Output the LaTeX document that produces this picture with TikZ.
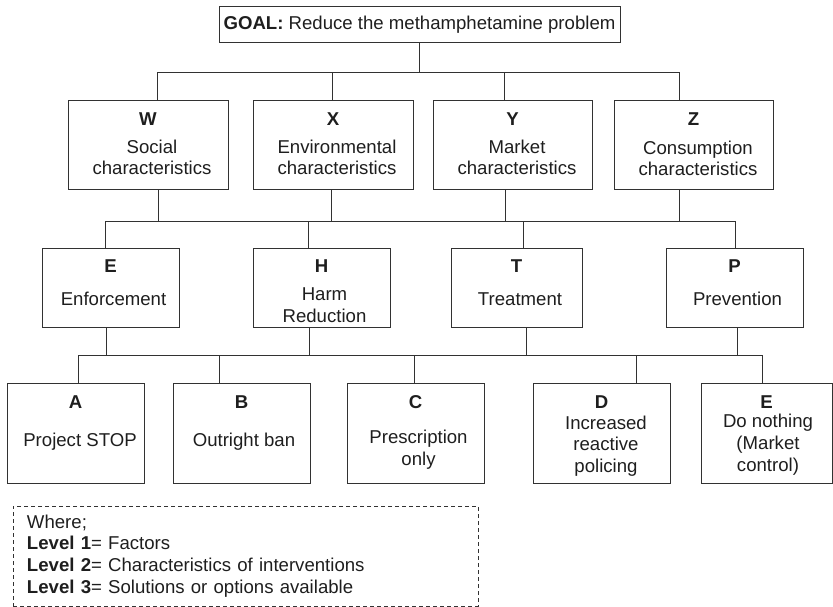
\documentclass[tikz,border=0pt]{standalone}
\usepackage{fontspec}
\setmainfont{Liberation Sans}
\usepackage{tikz}
\usetikzlibrary{positioning}
\definecolor{mydark}{RGB}{30,30,30}
\definecolor{myline}{RGB}{50,50,50}
\newcommand{\bodyfont}{\fontsize{18.6}{21.7}\selectfont}
\tikzset{
  box/.style={rectangle, draw=myline, line width=1pt, inner sep=0pt},
  letter/.style={font=\bodyfont\bfseries, text=mydark, inner sep=0pt},
  txt/.style={font=\bodyfont, text=mydark, align=center, inner sep=0pt},
  legend/.style={rectangle, draw=myline, line width=0.8pt,
    dash pattern=on 4pt off 3pt, font=\bodyfont, text=mydark,
    align=left, inner xsep=14pt, inner ysep=0pt},
  link/.style={draw=myline, line width=1pt}
}

\begin{document}
\begin{tikzpicture}[x=1pt, y=-1pt]
  \useasboundingbox (0,0) rectangle (833,607);

  % Goal
  \node[box, minimum width=401pt, minimum height=36pt, font=\bodyfont, text=mydark] (goal) at (419.5,25)
    {\textbf{GOAL:} Reduce the methamphetamine problem};

  % Level 1 - factors
  \node[box, minimum width=160pt, minimum height=89pt] (W) at (148,145.5) {};
  \node[letter] (Wk) at (148,119) {W};
  \node[txt] (Wt) at (152,157.5) {Social\\characteristics};

  \node[box, minimum width=160pt, minimum height=89pt] (X) at (333,145.5) {};
  \node[letter] (Xk) at (333,119) {X};
  \node[txt] (Xt) at (337,157.5) {Environmental\\characteristics};

  \node[box, minimum width=159pt, minimum height=89pt] (Y) at (512.5,145.5) {};
  \node[letter] (Yk) at (512.5,119) {Y};
  \node[txt] (Yt) at (517,157.5) {Market\\characteristics};

  \node[box, minimum width=159pt, minimum height=89pt] (Z) at (693.5,145.5) {};
  \node[letter] (Zk) at (693.5,119) {Z};
  \node[txt] (Zt) at (698,158.5) {Consumption\\characteristics};

  % Level 2 - characteristics of interventions
  \node[box, minimum width=137pt, minimum height=79pt] (E) at (110.5,287.5) {};
  \node[letter] (Ek) at (110.5,266) {E};
  \node[txt] (Et) at (113.5,299) {Enforcement};

  \node[box, minimum width=137pt, minimum height=79pt] (H) at (321.5,287.5) {};
  \node[letter] (Hk) at (321.5,266) {H};
  \node[txt] (Ht) at (324.5,305) {Harm\\Reduction};

  \node[box, minimum width=131pt, minimum height=79pt] (T) at (516.5,287.5) {};
  \node[letter] (Tk) at (516.5,266) {T};
  \node[txt] (Tt) at (520,299) {Treatment};

  \node[box, minimum width=137pt, minimum height=79pt] (P) at (734.5,287.5) {};
  \node[letter] (Pk) at (734.5,266) {P};
  \node[txt] (Pt) at (737.5,299) {Prevention};

  % Level 3 - solutions or options
  \node[box, minimum width=137pt, minimum height=100pt] (A) at (75.5,433) {};
  \node[letter] (Ak) at (75.5,402) {A};
  \node[txt] (At) at (80,442) {Project STOP};

  \node[box, minimum width=137pt, minimum height=100pt] (B) at (241.5,433) {};
  \node[letter] (Bk) at (241.5,402) {B};
  \node[txt] (Bt) at (244,442) {Outright ban};

  \node[box, minimum width=137pt, minimum height=100pt] (C) at (415.5,433) {};
  \node[letter] (Ck) at (415.5,402) {C};
  \node[txt] (Ct) at (418.5,450) {Prescription\\only};

  \node[box, minimum width=137pt, minimum height=100pt] (D) at (601.5,433) {};
  \node[letter] (Dk) at (601.5,402) {D};
  \node[txt] (Dt) at (606,446) {Increased\\reactive\\policing};

  \node[box, minimum width=131pt, minimum height=100pt] (N) at (766.5,433) {};
  \node[letter] (Nk) at (766.5,402) {E};
  \node[txt] (Nt) at (768,444.5) {Do nothing\\(Market\\control)};

  % Junctions
  \coordinate (j1) at ([yshift=-29pt]goal.south);
  \coordinate (j2) at (420,221);
  \coordinate (j3) at (420,355);

  % Goal to level 1
  \draw[link] (goal.south) -- (j1);
  \draw[link] ([xshift=9pt]W.north) |- (j1);
  \draw[link] ([xshift=-1pt]X.north) |- (j1);
  \draw[link] ([xshift=-8.5pt]Y.north) |- (j1);
  \draw[link] ([xshift=-14.5pt]Z.north) |- (j1);

  % Level 1 to level 2
  \draw[link] ([xshift=10pt]W.south) |- (j2);
  \draw[link] ([xshift=-2pt]X.south) |- (j2);
  \draw[link] ([xshift=-7.5pt]Y.south) |- (j2);
  \draw[link] ([xshift=-14.5pt]Z.south) |- (j2);
  \draw[link] ([xshift=-5.5pt]E.north) |- (j2);
  \draw[link] ([xshift=-13.5pt]H.north) |- (j2);
  \draw[link] ([xshift=6.5pt]T.north) |- (j2);
  \draw[link] ([xshift=0.5pt]P.north) |- (j2);

  % Level 2 to level 3
  \draw[link] ([xshift=-4.5pt]E.south) |- (j3);
  \draw[link] ([xshift=-12.5pt]H.south) |- (j3);
  \draw[link] ([xshift=9.5pt]T.south) |- (j3);
  \draw[link] ([xshift=2.5pt]P.south) |- (j3);
  \draw[link] ([xshift=2.5pt]A.north) |- (j3);
  \draw[link] ([xshift=-22.5pt]B.north) |- (j3);
  \draw[link] ([xshift=-1.5pt]C.north) |- (j3);
  \draw[link] ([xshift=34.5pt]D.north) |- (j3);
  \draw[link] ([xshift=-4.5pt]N.north) |- (j3);

  % Legend
  \node[legend, text width=437pt, minimum height=100pt] (where) at (245.5,556)
    {Where;\\\textbf{Level 1}= Factors\\\textbf{Level 2}= Characteristics of interventions\\\textbf{Level 3}= Solutions or options available};
\end{tikzpicture}
\end{document}
